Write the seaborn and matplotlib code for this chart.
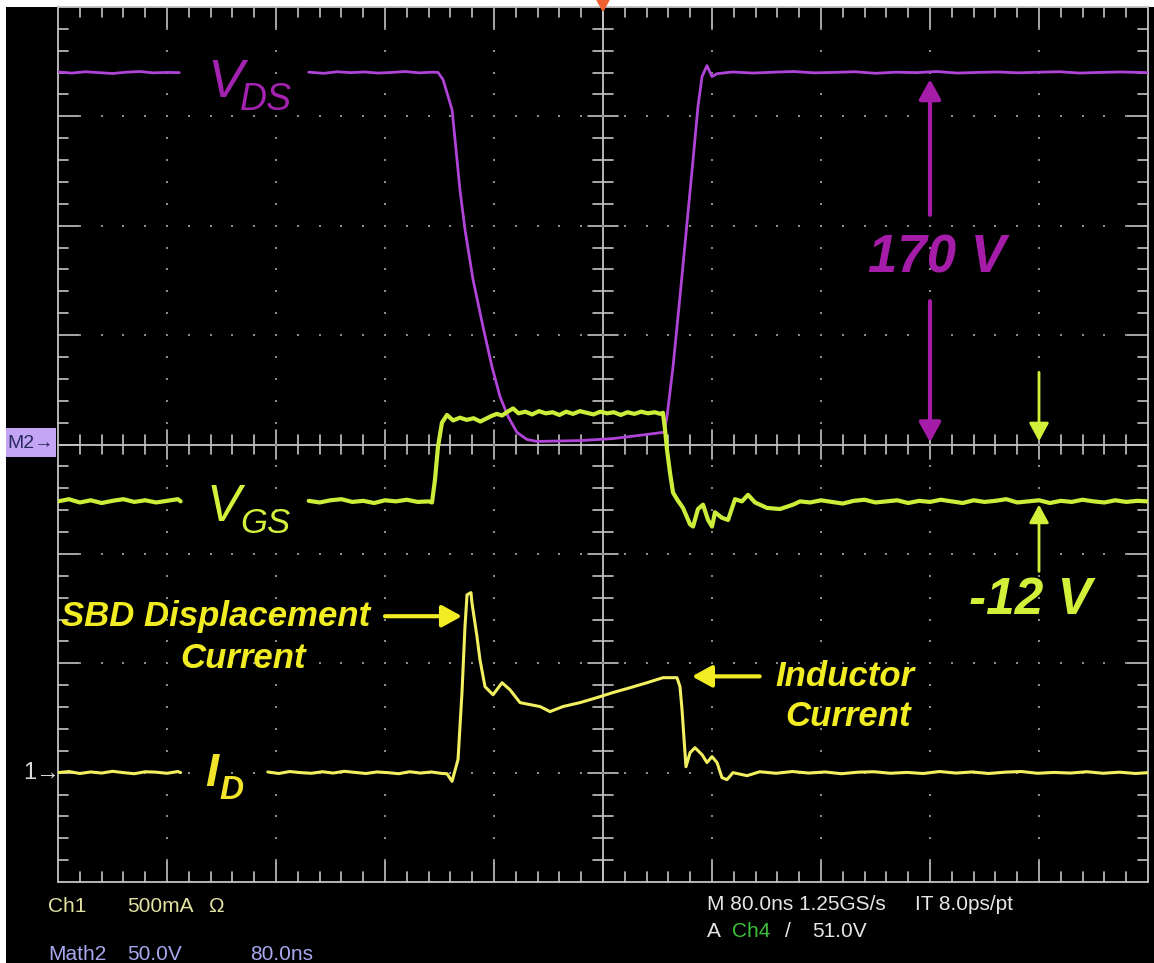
import numpy as np
import pandas as pd
import matplotlib
matplotlib.use("Agg")
import matplotlib.pyplot as plt
import seaborn as sns
from matplotlib.patches import Rectangle, Polygon

sns.set_theme(style="dark")
plt.rcParams['font.family'] = ['Liberation Sans', 'DejaVu Sans']

# ---------------- data (time in ns, 80 ns/div, trigger at 0) ----------------
# V_DS in volts (Math2, 50 V/div, reference at centre line)
vds_t1 = [-400, -390, -380, -370, -360, -350, -340, -330, -320, -311]
vds_v1 = [170.3, 169.8, 170.4, 170.0, 169.6, 170.2, 170.5, 169.9, 170.1, 170.0]
vds_t2 = [-216, -205, -195, -185, -175, -165, -155, -145, -135, -125, -121.1,
          -117.4, -110.8, -108.6, -105.0, -101.3, -95.4, -88.1, -81.5, -75.6,
          -69.7, -63.1, -55.8, -48.4, -31.6, -16.9, 7.3, 32.3, 43.3, 44.8, 47.0,
          51.4, 56.5, 61.7, 66.1, 69.7, 72.7, 76.3, 80.0, 83.7, 95, 110, 125,
          140, 155, 170, 185, 200, 215, 230, 245, 260, 275, 290, 305, 320, 335,
          350, 365, 380, 400]
vds_v2 = [170.2, 169.7, 170.4, 170.0, 170.3, 169.8, 170.1, 170.5, 169.9, 170.2, 170.1,
          166.8, 153.1, 139.4, 116.5, 98.3, 75.4, 53.9, 35.6, 21.9,
          12.8, 5.5, 2.3, 1.4, 1.6, 1.8, 2.7, 4.6, 5.5, 5.5, 12.8,
          35.6, 67.6, 101.5, 130.2, 154.5, 168.2, 173.2, 168.2, 169.5, 170.3, 169.8, 170.2,
          170.5, 169.9, 170.1, 170.4, 169.7, 170.2, 170.0, 170.5, 169.8, 170.1, 170.3, 169.9,
          170.2, 170.4, 169.8, 170.1, 170.3, 170.0]

# V_GS in screen divisions (Ch4)
vgs_t1 = [-400, -392, -384, -376, -368, -360, -352, -344, -336, -328, -320, -312, -310]
vgs_v1 = [-0.52, -0.50, -0.53, -0.51, -0.535, -0.515, -0.50, -0.525, -0.51, -0.53, -0.515, -0.50, -0.52]
vgs_t2 = [-216, -208, -200, -192, -184, -176, -168, -160, -152, -144, -136, -128,
          -125.5, -123.3, -121.1, -118.2, -114.5,
          -110, -105, -100, -95, -90, -86, -82, -78, -74, -70, -66, -62, -57, -52,
          -47, -42, -37, -32, -27, -22, -17, -12, -7, -2, 3, 8, 13, 18, 23, 28,
          33, 38, 42,
          44.0, 45.5, 47.0, 49.2, 51.4, 54.3, 58.7, 63.9, 66.1, 69.7, 73.4, 77.1,
          80.0, 82.2, 87.3, 91.8, 96.9, 102.0, 106.4, 111.6, 120.4, 129.9, 139.5,
          144.6,
          152, 160, 168, 176, 184, 192, 200, 208, 216, 224, 232, 240, 248, 256,
          264, 272, 280, 288, 296, 304, 312, 320, 328, 336, 344, 352, 360, 368,
          376, 384, 392, 400]
vgs_v2 = [-0.515, -0.53, -0.51, -0.50, -0.525, -0.515, -0.535, -0.51, -0.52, -0.505, -0.525, -0.52,
          -0.53, -0.32, -0.02, 0.20, 0.27,
          0.22, 0.245, 0.225, 0.24, 0.21, 0.235, 0.26, 0.28, 0.265, 0.30, 0.33, 0.285, 0.30, 0.275,
          0.305, 0.285, 0.295, 0.27, 0.30, 0.28, 0.305, 0.29, 0.275, 0.30, 0.285, 0.295, 0.27, 0.295,
          0.28, 0.30, 0.285, 0.295, 0.28,
          0.29, 0.14, -0.05, -0.26, -0.44, -0.50, -0.58, -0.73, -0.75, -0.59, -0.55, -0.69,
          -0.75, -0.62, -0.67, -0.69, -0.50, -0.52, -0.46, -0.53, -0.58, -0.59, -0.55,
          -0.52,
          -0.53, -0.51, -0.525, -0.54, -0.515, -0.505, -0.53, -0.52,
          -0.51, -0.535, -0.515, -0.525, -0.505, -0.52, -0.535, -0.51,
          -0.525, -0.515, -0.50, -0.53, -0.52, -0.51, -0.535, -0.515,
          -0.525, -0.505, -0.52, -0.53, -0.51, -0.525, -0.515, -0.52]

# I_D in amperes (Ch1, 500 mA/div, reference 3 div below centre)
id_t1 = [-400, -392, -384, -376, -368, -360, -352, -344, -336, -328, -320, -312, -310]
id_v1 = [0.000, 0.005, -0.004, 0.003, -0.002, 0.006, 0.000, -0.005, 0.004, 0.002, -0.003, 0.005, 0.000]
id_t2 = [-246, -238, -230, -222, -214, -206, -198, -190, -182, -174, -166, -158, -150,
         -142, -134, -126, -118, -114.5, -110.8, -106.4, -103.5, -101.3, -99.8, -96.9,
         -96.2, -92.5, -90.3, -86.6, -80.7, -74.1, -68.3, -60.9, -53.6, -46.2, -38.9,
         -29.4, -16.9, -4.4, 7.3, 19.8, 32.3, 44.0, 54.3, 56.5, 58.0, 59.5, 60.9, 63.9,
         67.5, 72.7, 76.3, 80.0, 83.7, 87.3, 91.0, 95.4, 105.7,
         115, 127, 139, 151, 163, 175, 187, 199, 211, 223, 235, 247, 259, 271, 283,
         295, 307, 319, 331, 343, 355, 367, 379, 391, 400]
id_v2 = [0.003, -0.004, 0.005, 0.000, -0.003, 0.004, -0.002, 0.006, 0.001, -0.004, 0.003, 0.000, -0.005,
         0.004, -0.002, 0.003, -0.004, -0.005, -0.040, 0.060, 0.366, 0.667, 0.813, 0.823,
         0.777, 0.622, 0.516, 0.393, 0.356, 0.411, 0.379, 0.320, 0.311, 0.302, 0.279,
         0.302, 0.320, 0.343, 0.366, 0.388, 0.411, 0.434, 0.434, 0.393, 0.288, 0.151, 0.027, 0.091,
         0.114, 0.082, 0.046, 0.073, 0.046, -0.023, -0.032, 0.000, -0.014,
         0.004, -0.003, 0.005, -0.002, 0.003, -0.005, 0.002, 0.004, -0.003, 0.001, -0.004,
         0.005, -0.002, 0.003, -0.004, 0.002, 0.005, -0.003, 0.001, -0.002, 0.004, -0.003,
         0.002, -0.004, 0.000]

VDS_SCALE = 50.0      # V/div
ID_SCALE = 0.5        # A/div
ID_REF = -3.0         # div

C_VDS = '#B044D8'
C_VGS = '#CCEE3A'
C_ID = '#F2F060'
C_VDS_LBL = '#A422B0'
C_VGS_LBL = '#D4F23C'
C_ID_LBL = '#F2E42A'
C_GRID = '#C4C4C4'
C_DOT = '#8A8A8A'

# build long tables
def segs(name, parts):
    rows = []
    for k, (ts, vs) in enumerate(parts):
        for t, v in zip(ts, vs):
            rows.append((name, k, t, v))
    return pd.DataFrame(rows, columns=['trace', 'seg', 't', 'v'])

df_vds = segs('VDS', [(vds_t1, vds_v1), (vds_t2, vds_v2)])
df_vds['y'] = df_vds['v'] / VDS_SCALE
df_vgs = segs('VGS', [(vgs_t1, vgs_v1), (vgs_t2, vgs_v2)])
df_vgs['y'] = df_vgs['v']
df_id = segs('ID', [(id_t1, id_v1), (id_t2, id_v2)])
df_id['y'] = ID_REF + df_id['v'] / ID_SCALE

# ---------------- figure ----------------
W, H = 1154, 963
fig = plt.figure(figsize=(W / 100, H / 100), dpi=100)
fig.patch.set_facecolor('white')
bg = fig.add_axes([6 / W, 0, (W - 6) / W, (H - 7) / H])
bg.set_facecolor('black')
bg.set_xticks([]); bg.set_yticks([])
for s in bg.spines.values():
    s.set_visible(False)

ax = fig.add_axes([58 / W, 81 / H, 1090 / W, 875 / H])
ax.set_xlim(-400, 400)
ax.set_ylim(-4, 4)
ax.axis('off')

PXX = 80 / 109.0     # ns per pixel
PXY = 1 / 109.4      # div per pixel

# graticule: border + centre lines
gkw = dict(color=C_GRID, lw=1.3, clip_on=False, zorder=2)
for xv in (-400, 400):
    ax.plot([xv, xv], [-4, 4], **gkw)
for yv in (-4, 4):
    ax.plot([-400, 400], [yv, yv], **gkw)
ax.plot([0, 0], [-4, 4], **gkw)
ax.plot([-400, 400], [0, 0], **gkw)

segs_x = []
for i in range(1, 50):
    t = -400 + 16 * i
    major = (i % 5 == 0)
    lb = (22 if major else 10) * PXY
    lc = (15 if major else 10) * PXY
    segs_x += [([t, t], [4, 4 - lb]), ([t, t], [-4, -4 + lb]), ([t, t], [-lc, lc])]
for i in range(1, 40):
    y = -4 + 0.2 * i
    major = (i % 5 == 0)
    lb = (22 if major else 10) * PXX
    lc = (15 if major else 10) * PXX
    segs_x += [([-400, -400 + lb], [y, y]), ([400, 400 - lb], [y, y]), ([-lc, lc], [y, y])]
for xs, ys in segs_x:
    ax.plot(xs, ys, color=C_GRID, lw=1.2, clip_on=False, zorder=2)

dots_x, dots_y = [], []
for tv in (-320, -240, -160, -80, 80, 160, 240, 320):
    for i in range(1, 40):
        dots_x.append(tv); dots_y.append(-4 + 0.2 * i)
for yv in (-3, -2, -1, 1, 2, 3):
    for i in range(1, 50):
        dots_x.append(-400 + 16 * i); dots_y.append(yv)
ax.scatter(dots_x, dots_y, s=3, marker='s', color=C_DOT, linewidths=0, zorder=2)

# traces
common = dict(x='t', y='y', units='seg', estimator=None, sort=False, legend=False, ax=ax)
sns.lineplot(data=df_vds, color=C_VDS, lw=2.0, zorder=4, **common)
sns.lineplot(data=df_id, color=C_ID, lw=2.2, zorder=4, **common)
sns.lineplot(data=df_vgs, color=C_VGS, lw=3.0, zorder=5, **common)
ax.set_xlim(-400, 400)
ax.set_ylim(-4, 4)
ax.axis('off')

# trace labels
ax.text(-290.7, 3.18, 'V', color=C_VDS_LBL, fontsize=39, style='italic', ha='left', va='baseline')
ax.text(-266.4, 3.06, 'DS', color=C_VDS_LBL, fontsize=27, style='italic', ha='left', va='baseline')
ax.text(-291.0, -0.70, 'V', color=C_VGS_LBL, fontsize=37, style='italic', ha='left', va='baseline')
ax.text(-266.0, -0.81, 'GS', color=C_VGS_LBL, fontsize=25, style='italic', ha='left', va='baseline')
ax.text(-292.0, -3.12, 'I', color=C_ID_LBL, fontsize=34, style='italic', weight='bold', ha='left', va='baseline')
ax.text(-281.9, -3.245, 'D', color=C_ID_LBL, fontsize=24, style='italic', weight='bold', ha='left', va='baseline')

# annotations
def arrow(tip, tail, color, lw, hw=0.33, hl=0.6):
    ax.annotate('', xy=tip, xytext=tail,
                arrowprops=dict(arrowstyle=f'-|>,head_width={hw},head_length={hl}',
                                color=color, lw=lw, shrinkA=0, shrinkB=0, mutation_scale=20),
                zorder=6)

C_170 = '#A41CA8'
arrow((240, 3.34), (240, 2.10), C_170, 3.0)
arrow((240, 0.02), (240, 1.31), C_170, 3.0)
ax.text(245, 1.70, '170 V', color=C_170, fontsize=38, style='italic', weight='bold',
        ha='center', va='center', zorder=6)

C_12 = '#D2F03A'
arrow((320, 0.03), (320, 0.66), C_12, 2.0, hw=0.3, hl=0.55)
arrow((320, -0.55), (320, -1.16), C_12, 2.0, hw=0.3, hl=0.55)
ax.text(314, -1.43, '-12 V', color=C_12, fontsize=37, style='italic', weight='bold',
        ha='center', va='center', zorder=6)

C_Y = '#F2EC22'
LBL = 25
arrow((-103.5, -1.57), (-160, -1.57), C_Y, 3.0)
ax.text(-284.5, -1.57, 'SBD Displacement', color=C_Y, fontsize=LBL, style='italic', weight='bold',
        ha='center', va='center', zorder=6)
ax.text(-264, -1.96, 'Current', color=C_Y, fontsize=LBL, style='italic', weight='bold',
        ha='center', va='center', zorder=6)
arrow((65.3, -2.12), (115, -2.12), C_Y, 3.0)
ax.text(177.6, -2.12, 'Inductor', color=C_Y, fontsize=LBL, style='italic', weight='bold',
        ha='center', va='center', zorder=6)
ax.text(179.8, -2.49, 'Current', color=C_Y, fontsize=LBL, style='italic', weight='bold',
        ha='center', va='center', zorder=6)

# trigger marker on top
ax.add_patch(Polygon([(-6 * PXX, 4 + 7 * PXY), (6 * PXX, 4 + 7 * PXY), (0, 4 - 4 * PXY)],
                     closed=True, color='#F06030', clip_on=False, zorder=7))

# left reference markers
def fx(x): return x / W
def fy(y): return 1 - y / H
fig.patches.append(Rectangle((fx(6), fy(457)), 50 / W, 29 / H, transform=fig.transFigure,
                             facecolor='#C4A4F4', edgecolor='none', zorder=3))
fig.text(fx(7), fy(443), 'M2→', color='#2A2A60', fontsize=14, ha='left', va='center', zorder=4)
fig.text(fx(23), fy(773), '1→', color='#D8D8D8', fontsize=17, ha='left', va='center', zorder=4)

# status texts
sfam = ['Liberation Sans Narrow', 'Liberation Sans', 'DejaVu Sans']
def st(x, y, s, c):
    fig.text(fx(x), fy(y), s, color=c, fontsize=15, family=sfam, ha='left', va='baseline')

C_CH1 = '#E2E2A2'
C_M2 = '#A8A8EE'
C_W = '#E6E6E6'
st(48, 912, 'Ch1', C_CH1)
st(127, 912, '500mA', C_CH1)
st(208, 912, 'Ω', C_CH1)
st(48, 960, 'Math2', C_M2)
st(127, 960, '50.0V', C_M2)
st(250, 960, '80.0ns', C_M2)
st(707, 910, 'M 80.0ns 1.25GS/s', C_W)
st(915, 910, 'IT 8.0ps/pt', C_W)
st(707, 937, 'A', C_W)
st(732, 937, 'Ch4', '#3CC03C')
st(785, 937, '/', C_W)
st(812, 937, '51.0V', C_W)

fig.savefig('out.png', dpi=100, facecolor=fig.get_facecolor())
